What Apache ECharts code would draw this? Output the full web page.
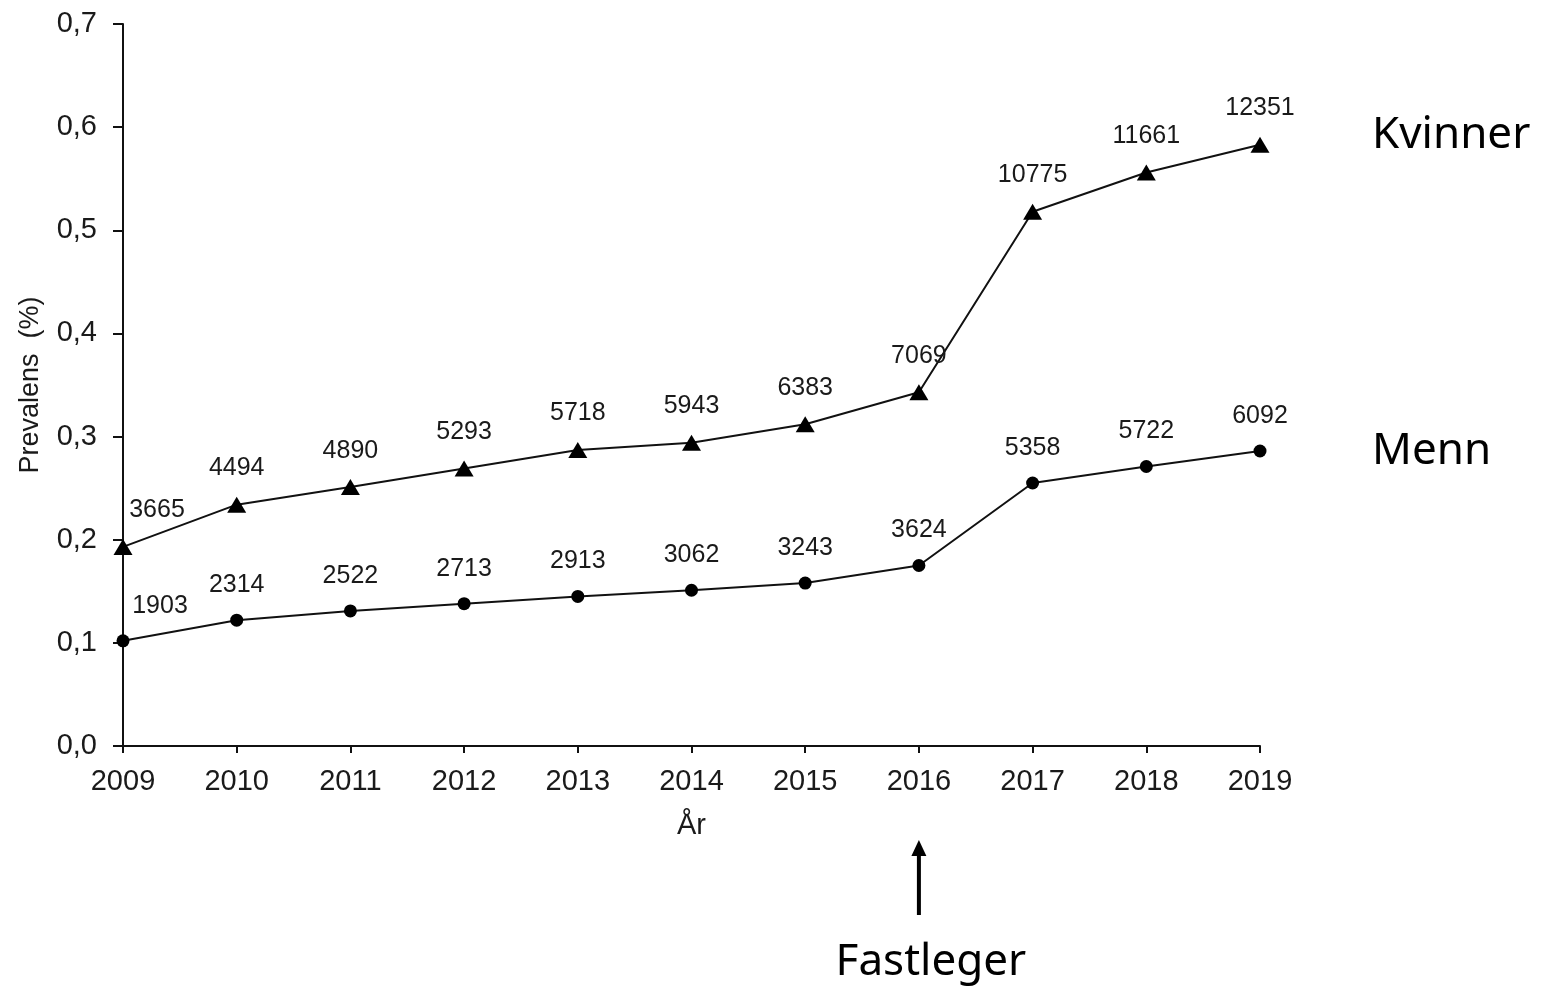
<!DOCTYPE html>
<html><head><meta charset="utf-8">
<script src="https://cdn.jsdelivr.net/npm/echarts@6/dist/echarts.min.js"></script>
<style>html,body{margin:0;padding:0;background:#fff}#c{width:1541px;height:987px}</style>
</head><body><div id="c"></div>
<script>
const years = ['2009','2010','2011','2012','2013','2014','2015','2016','2017','2018','2019'];
const kvinnerPrev = [0.193,0.234,0.251,0.269,0.287,0.294,0.312,0.343,0.518,0.556,0.583];
const kvinnerCount = [3665,4494,4890,5293,5718,5943,6383,7069,10775,11661,12351];
const mennPrev = [0.102,0.122,0.131,0.138,0.145,0.151,0.158,0.175,0.255,0.271,0.286];
const mennCount = [1903,2314,2522,2713,2913,3062,3243,3624,5358,5722,6092];
const yTicks = ['0,0','0,1','0,2','0,3','0,4','0,5','0,6','0,7'];
const annotation = 'Fastleger';
const annotationYear = '2016';

const FONT = 'Liberation Sans, Arial, sans-serif';
const BIG = '"Noto Sans", "Open Sans", sans-serif';
const chart = echarts.init(document.getElementById('c'));
function mk(vals, counts, first) {
  return vals.map((v, i) => {
    const d = { value: v, count: counts[i] };
    if (i === 0) d.label = { offset: [first, 0] };
    return d;
  });
}
const labelStyle = {
  show: true, position: 'top', distance: 16, fontFamily: FONT,
  fontSize: 25, color: '#1a1a1a', formatter: p => String(p.data.count)
};
chart.setOption({
  animation: false,
  grid: { left: 123, right: 281, top: 24, bottom: 241, containLabel: false },
  xAxis: {
    type: 'category', data: years, boundaryGap: false,
    axisLine: { lineStyle: { color: '#111', width: 2 } },
    axisTick: { show: true, length: 7, alignWithLabel: true, lineStyle: { color: '#111', width: 2 } },
    axisLabel: { margin: 21, fontFamily: FONT, fontSize: 29, color: '#1a1a1a' },
    name: 'År', nameLocation: 'middle', nameGap: 65,
    nameTextStyle: { fontFamily: FONT, fontSize: 29, color: '#1a1a1a' },
    splitLine: { show: false }
  },
  yAxis: {
    type: 'value', min: 0, max: 0.7, interval: 0.1,
    axisLine: { show: true, lineStyle: { color: '#111', width: 2 } },
    axisTick: { show: true, length: 10, lineStyle: { color: '#111', width: 2 } },
    axisLabel: { margin: 26, fontFamily: FONT, fontSize: 29, color: '#1a1a1a',
      formatter: (v) => yTicks[Math.round(v * 10)] },
    splitLine: { show: false },
    name: 'Prevalens  (%)', nameLocation: 'middle', nameGap: 79, nameRotate: 90,
    nameTextStyle: { fontFamily: FONT, fontSize: 27, color: '#1a1a1a' }
  },
  series: [
    {
      name: 'Kvinner', type: 'line', data: mk(kvinnerPrev, kvinnerCount, 34),
      symbol: 'triangle', symbolSize: [19, 16], itemStyle: { color: '#000' },
      lineStyle: { color: '#111', width: 2 }, label: labelStyle,
      endLabel: { show: true, formatter: 'Kvinner', distance: 112, offset: [0, -9],
        fontFamily: BIG, fontSize: 44, color: '#000' }
    },
    {
      name: 'Menn', type: 'line', data: mk(mennPrev, mennCount, 37),
      symbol: 'circle', symbolSize: 13, itemStyle: { color: '#000' },
      lineStyle: { color: '#111', width: 2 }, label: labelStyle,
      endLabel: { show: true, formatter: 'Menn', distance: 112, offset: [0, 0],
        fontFamily: BIG, fontSize: 44, color: '#000' }
    }
  ]
});
const px = chart.convertToPixel({ xAxisIndex: 0 }, annotationYear);
chart.setOption({
  graphic: [
    { type: 'line', shape: { x1: px, y1: 915, x2: px, y2: 852 }, style: { stroke: '#000', lineWidth: 4 } },
    { type: 'polygon', shape: { points: [[px, 840], [px - 7.5, 856], [px + 7.5, 856]] }, style: { fill: '#000' } },
    { type: 'text', x: px + 12, y: 962, style: { text: annotation, align: 'center', verticalAlign: 'middle',
      font: '44px "Noto Sans", "Open Sans", sans-serif', fill: '#000' } }
  ]
});
</script></body></html>
